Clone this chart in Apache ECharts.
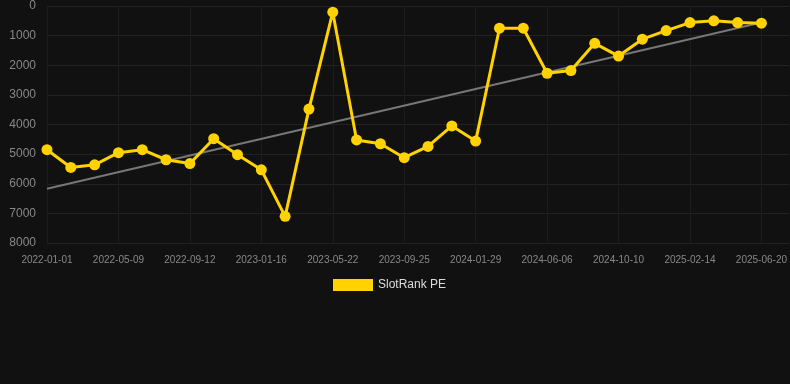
<!DOCTYPE html>
<html>
<head>
<meta charset="utf-8">
<script src="https://cdn.jsdelivr.net/npm/echarts@6/dist/echarts.min.js"></script>
<style>
  html, body { margin: 0; padding: 0; background: #111111; }
  #main { width: 790px; height: 384px; }
</style>
</head>
<body>
<div id="main"></div>
<script>
// dates along the x axis (every third one is labelled)
var dates = [
  '2022-01-01', '2022-02-13', '2022-03-28', '2022-05-09', '2022-06-20', '2022-08-01',
  '2022-09-12', '2022-10-24', '2022-12-05', '2023-01-16', '2023-02-27', '2023-04-10',
  '2023-05-22', '2023-07-03', '2023-08-14', '2023-09-25', '2023-11-06', '2023-12-18',
  '2024-01-29', '2024-03-12', '2024-04-24', '2024-06-06', '2024-07-18', '2024-08-29',
  '2024-10-10', '2024-11-22', '2025-01-03', '2025-02-14', '2025-03-28', '2025-05-09',
  '2025-06-20'
];

// SlotRank PE values (rank, lower is better)
var slotRank = [
  4850, 5450, 5360, 4950, 4850, 5190, 5320, 4480, 5020, 5530, 7100, 3480,
  210, 4520, 4650, 5120, 4740, 4050, 4560, 750, 750, 2270, 2180, 1260,
  1690, 1120, 830, 560, 500, 560, 580
];

// trend line: start and end values only
var trendStart = 6170;
var trendEnd = 560;

var last = dates.length - 1;
var lineData = slotRank.map(function (v, i) { return [i, v]; });
var trendData = [[0, trendStart], [last, trendEnd]];

var myChart = echarts.init(document.getElementById('main'));
var option = {
  backgroundColor: '#111111',
  animation: false,
  // plot runs to the right edge, last date sits at x=762
  grid: { left: 47, right: 0, top: 6, bottom: 141 },
  legend: {
    bottom: 88,
    left: 328,
    itemWidth: 40,
    itemHeight: 12,
    itemGap: 6,
    textStyle: { color: '#dddddd', fontSize: 12 },
    data: [{ name: 'SlotRank PE', icon: 'rect' }]
  },
  xAxis: {
    type: 'value',
    min: 0,
    max: 31.17,
    interval: 3,
    axisLine: { show: false },
    axisTick: { show: false },
    axisLabel: {
      color: '#888888', fontSize: 10, margin: 12,
      showMaxLabel: false,
      formatter: function (v) {
        return Number.isInteger(v) && dates[v] ? dates[v] : '';
      }
    },
    splitLine: { show: true, showMaxLine: false, lineStyle: { color: '#1c1c1c' } }
  },
  yAxis: {
    type: 'value',
    inverse: true,
    min: 0,
    max: 8000,
    interval: 1000,
    axisLine: { show: false },
    axisTick: { show: false },
    axisLabel: {
      color: '#888888', fontSize: 12, margin: 11,
      formatter: function (v) { return String(v); }
    },
    splitLine: { lineStyle: { color: '#222222' } }
  },
  series: [
    {
      name: 'trend',
      type: 'line',
      data: trendData,
      symbol: 'none',
      lineStyle: { color: '#777777', width: 2 },
      z: 1
    },
    {
      name: 'SlotRank PE',
      type: 'line',
      data: lineData,
      symbol: 'circle',
      symbolSize: 11,
      itemStyle: { color: '#ffd200' },
      lineStyle: { color: '#ffd200', width: 3 },
      z: 2
    }
  ]
};
myChart.setOption(option);
</script>
</body>
</html>
